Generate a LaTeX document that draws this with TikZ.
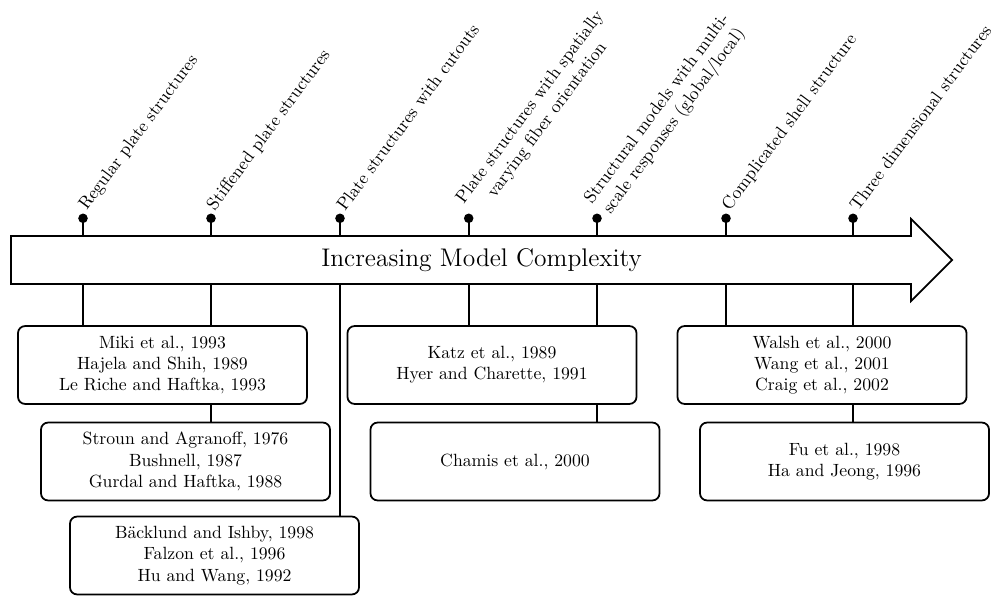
\documentclass[tikz,border=0pt]{standalone}
\usepackage{fontspec}
\begin{document}
\begin{tikzpicture}[x=0.565pt,y=-0.565pt,line width=1pt,
  dotn/.style={circle,fill,inner sep=0pt,minimum size=5.4pt},
  lbl/.style={rotate=53.5,anchor=west,xshift=0.8pt,yshift=3.2pt,align=center,inner sep=3.33pt},
  refbox/.style={draw,rounded corners=4pt,minimum width=163.3pt,minimum height=44pt,align=center,inner sep=2pt,fill=white}]
\useasboundingbox (0,0) rectangle (997,595);
% main arrow
\draw (11,236) coordinate (tail) -- (911,236) -- (911,219) -- (952,260) coordinate (tip) -- (911,301) -- (911,284) -- (11,284) -- cycle;
\node[font=\Large] (title) at (481.5,260) {Increasing Model Complexity};
% tick coordinates on the arrow
\foreach \i/\x in {1/83,2/211,3/340,4/468.7,5/597,6/726,7/853}{
  \coordinate (t\i) at (\x,236);
  \coordinate (b\i) at (\x,284);
  \node[dotn] (d\i) at (\x,218.3) {};
}
\foreach \i in {1,...,7}{\draw (t\i) -- (d\i.center);}
% labels
\node[lbl] (l1) at (d1.center) {Regular plate structures};
\node[lbl] (l2) at (d2.center) {Stiffened plate structures};
\node[lbl] (l3) at (d3.center) {Plate structures with cutouts};
\node[lbl] (l4) at (d4.center) {Plate structures with spatially\\varying fiber orientation};
\node[lbl] (l5) at (d5.center) {Structural models with multi-\\scale responses (global/local)};
\node[lbl] (l6) at (d6.center) {Complicated shell structure};
\node[lbl] (l7) at (d7.center) {Three dimensional structures};
% reference boxes
\node[refbox] (r1) at (162.5,365) {Miki et al., 1993\\Hajela and Shih, 1989\\Le Riche and Haftka, 1993};
\node[refbox] (r2) at (185.5,461.5) {Stroun and Agranoff, 1976\\Bushnell, 1987\\Gurdal and Haftka, 1988};
\node[refbox] (r3) at (214.5,555.5) {Bäcklund and Ishby, 1998\\Falzon et al., 1996\\Hu and Wang, 1992};
\node[refbox] (r4) at (492,365) {Katz et al., 1989\\Hyer and Charette, 1991};
\node[refbox] (r5) at (515,461.5) {Chamis et al., 2000};
\node[refbox] (r6) at (822,365) {Walsh et al., 2000\\Wang et al., 2001\\Craig et al., 2002};
\node[refbox] (r7) at (844.5,461.5) {Fu et al., 1998\\Ha and Jeong, 1996};
% connectors
\draw (b1) -- (b1 |- r1.north);
\draw (b2) -- (b2 |- r1.north);
\draw (b2 |- r1.south) -- (b2 |- r2.north);
\draw (b3) -- (b3 |- r3.north);
\draw (b4) -- (b4 |- r4.north);
\draw (b5) -- (b5 |- r4.north);
\draw (b5 |- r4.south) -- (b5 |- r5.north);
\draw (b6) -- (b6 |- r6.north);
\draw (b7) -- (b7 |- r6.north);
\draw (b7 |- r6.south) -- (b7 |- r7.north);
\end{tikzpicture}
\end{document}
